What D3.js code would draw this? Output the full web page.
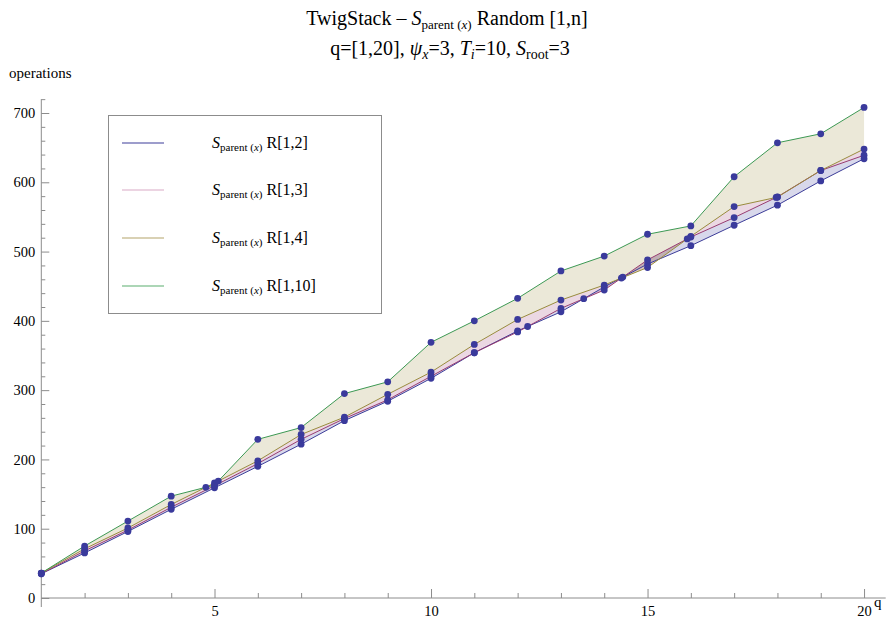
<!DOCTYPE html>
<html>
<head>
<meta charset="utf-8">
<script src="https://cdn.jsdelivr.net/npm/d3@7"></script>
<style>
  body { margin: 0; background: #fff; }
  text { font-family: "Liberation Serif", "DejaVu Serif", serif; fill: #000; }
</style>
</head>
<body>
<div id="chart"></div>
<script>
// q values and operations per series
var q = [1, 2, 3, 4, 5, 6, 7, 8, 9, 10, 11, 12, 13, 14, 15, 16, 17, 18, 19, 20];
var r12 = [35, 65, 96, 128, 159, 190, 222, 256, 284, 317, 354, 385.5, 413, 449, 482, 508.5, 538, 567, 602, 634];
var r13 = [35, 68, 98, 131, 162, 194, 229, 259, 286, 320, 354, 384, 418, 444.5, 488, 521, 549, 579, 617, 639];
var r14 = [36, 71, 101, 135, 166, 198, 236, 261, 294, 326, 366, 402, 430, 451.7, 477, 522, 565, 578.5, 617, 648];
var r110 = [36, 75, 111, 147, 163, 229, 246, 295, 312, 369, 400, 432.5, 472, 493.5, 525, 537, 608, 657, 670, 708];
var seriesNames = ["R[1,2]", "R[1,3]", "R[1,4]", "R[1,10]"];
var xMajorTicks = [5, 10, 15, 20];
var yMajorTicks = [0, 100, 200, 300, 400, 500, 600, 700];

var colors = ["#3d3d99", "#993d71", "#998c3d", "#3d9954"];
var legendColors = ["#3d3d99", "#d9a9c6", "#b3a46a", "#5aae6e"];

var width = 891, height = 622;
var series = [r12, r13, r14, r110];

var xScale = d3.scaleLinear()
    .domain([1, 20.5])
    .range([41.3, 885.7]);

var yScale = d3.scaleLinear()
    .domain([0, 700])
    .range([598, 113]);

var svg = d3.select("#chart").append("svg")
    .attr("width", width)
    .attr("height", height);

// title
var t1 = svg.append("text")
    .attr("x", 447).attr("y", 25)
    .attr("text-anchor", "middle")
    .style("font-size", "20px");
t1.append("tspan").text("TwigStack \u2013 ");
t1.append("tspan").style("font-style", "italic").text("S");
t1.append("tspan").attr("dy", 4).style("font-size", "13px").text("parent (");
t1.append("tspan").style("font-size", "13px").style("font-style", "italic").text("x");
t1.append("tspan").style("font-size", "13px").text(")");
t1.append("tspan").attr("dy", -4).text(" Random [1,n]");

var t2 = svg.append("text")
    .attr("x", 450).attr("y", 55)
    .attr("text-anchor", "middle")
    .style("font-size", "20px");
t2.append("tspan").text("q=[1,20], ");
t2.append("tspan").style("font-style", "italic").text("\u03c8");
t2.append("tspan").attr("dy", 4).style("font-size", "14px").style("font-style", "italic").text("x");
t2.append("tspan").attr("dy", -4).text("=3, ");
t2.append("tspan").style("font-style", "italic").text("T");
t2.append("tspan").attr("dy", 4).style("font-size", "14px").style("font-style", "italic").text("i");
t2.append("tspan").attr("dy", -4).text("=10, ");
t2.append("tspan").style("font-style", "italic").text("S");
t2.append("tspan").attr("dy", 4).style("font-size", "14px").text("root");
t2.append("tspan").attr("dy", -4).text("=3");

// fillings between neighbouring curves, coloured by the lower curve
for (var k = 0; k < 3; k++) {
  var area = d3.area()
      .x(function(d, i) { return xScale(q[i]); })
      .y0(function(d) { return yScale(d[0]); })
      .y1(function(d) { return yScale(d[1]); });
  var pairs = q.map(function(v, i) { return [series[k][i], series[k + 1][i]]; });
  svg.append("path")
      .datum(pairs)
      .attr("fill", colors[k])
      .attr("fill-opacity", 0.2)
      .attr("stroke", "none")
      .attr("d", area);
}

// axes
var yAxisG = svg.append("g").attr("transform", "translate(" + xScale(1) + ",0)");
yAxisG.call(d3.axisLeft(yScale).tickValues(yMajorTicks).tickSize(-8).tickPadding(6));
yAxisG.append("g").call(d3.axisLeft(yScale)
    .tickValues(d3.range(20, 721, 20).filter(function(v) { return v % 100 != 0; }))
    .tickSize(-4).tickFormat(""));
yAxisG.selectAll(".domain").remove();
yAxisG.append("line").attr("y1", yScale(-13)).attr("y2", yScale(720));

var xAxisG = svg.append("g").attr("transform", "translate(0," + yScale(0) + ")");
xAxisG.call(d3.axisBottom(xScale).tickValues(xMajorTicks).tickSize(-9).tickPadding(8));
xAxisG.append("g").call(d3.axisBottom(xScale)
    .tickValues(q.filter(function(v) { return v > 1 && v % 5 != 0; }))
    .tickSize(-5).tickFormat(""));
xAxisG.selectAll(".domain").remove();
xAxisG.append("line").attr("x1", xScale(1)).attr("x2", xScale(20.5));

svg.selectAll(".tick line").attr("stroke", "#8c8c8c");
svg.selectAll("g > line").attr("stroke", "#8c8c8c");
svg.selectAll(".tick text").style("font-size", "14.5px").style("font-family", "Liberation Serif, serif");

svg.append("text").attr("x", 9).attr("y", 78).style("font-size", "15px").text("operations");
svg.append("text").attr("x", 874).attr("y", 607).style("font-size", "15px").text("q");

// lines
var line = d3.line()
    .x(function(d, i) { return xScale(q[i]); })
    .y(function(d) { return yScale(d); });

series.forEach(function(s, k) {
  svg.append("path")
      .datum(s)
      .attr("fill", "none")
      .attr("stroke", colors[k])
      .attr("stroke-width", 1)
      .attr("d", line);
});

// mesh points: data points plus the crossings of neighbouring curves
var pts = [];
series.forEach(function(s) {
  s.forEach(function(v, i) { pts.push([q[i], v]); });
});
for (var k = 0; k < 3; k++) {
  var a = series[k], b = series[k + 1];
  for (var i = 0; i < q.length - 1; i++) {
    var d0 = b[i] - a[i], d1 = b[i + 1] - a[i + 1];
    if (d0 * d1 < 0) {
      var t = d0 / (d0 - d1);
      pts.push([q[i] + t * (q[i + 1] - q[i]), a[i] + t * (a[i + 1] - a[i])]);
    }
  }
}
svg.selectAll("circle.pt").data(pts).enter().append("circle")
    .attr("class", "pt")
    .attr("cx", function(d) { return xScale(d[0]); })
    .attr("cy", function(d) { return yScale(d[1]); })
    .attr("r", 3.4)
    .style("fill", "#3a3a9c");

// legend
var lg = svg.append("g");
lg.append("rect").attr("x", 108.5).attr("y", 115.5).attr("width", 273).attr("height", 198)
    .attr("fill", "#fff").attr("stroke", "#8c8c8c");
var rowY = [143, 190, 238, 286];
seriesNames.forEach(function(n, k) {
  lg.append("line")
      .attr("x1", 122).attr("x2", 164)
      .attr("y1", rowY[k]).attr("y2", rowY[k])
      .attr("stroke", legendColors[k]).attr("stroke-width", 1.2);
  var tx = lg.append("text").attr("x", 212).attr("y", rowY[k] + 5).style("font-size", "16px");
  tx.append("tspan").style("font-style", "italic").text("S");
  tx.append("tspan").attr("dy", 3).style("font-size", "11px").text("parent  (");
  tx.append("tspan").style("font-size", "11px").style("font-style", "italic").text("x");
  tx.append("tspan").style("font-size", "11px").text(")");
  tx.append("tspan").attr("dy", -3).text(" " + n);
});
</script>
</body>
</html>
